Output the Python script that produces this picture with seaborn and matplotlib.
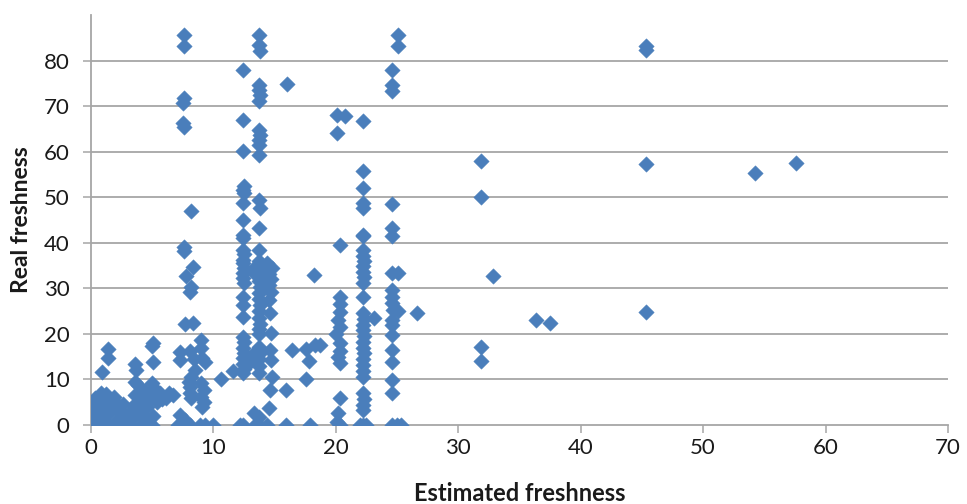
import numpy as np
import pandas as pd
import matplotlib
matplotlib.use("Agg")
import matplotlib.pyplot as plt
import seaborn as sns

# Estimated vs. real freshness, one pair per item
estimated = [
    # low cluster
    0.0, 0.2, 0.4, 0.1, 0.5, 0.3, 0.8, 1.0, 1.1, 0.9, 1.3, 1.5, 1.7, 1.9, 2.1, 2.3, 2.0, 0.6, 1.0, 2.4,
    2.7, 3.0, 3.2, 3.3, 3.5, 3.6, 3.8, 3.4, 4.0, 4.1, 4.2, 4.4, 4.6, 4.8, 5.0, 5.0, 5.2, 5.4, 5.6, 5.8,
    6.1, 6.4, 6.7, 5.0, 4.5, 2.6, 0.7, 1.2, 3.9, 5.1,
    0.9, 1.4, 1.4, 3.6, 3.7, 3.6, 5.1, 5.0, 5.1,
    # around 8
    7.6, 7.6, 7.6, 7.5, 7.5, 7.6, 8.2, 7.6, 7.6, 8.3, 7.8, 8.2, 8.1, 7.7, 8.3, 7.3, 7.3, 8.1, 8.4, 8.2,
    8.1, 8.1, 8.2, 7.3, 7.1, 8.1, 7.7, 8.5, 8.0,
    9.0, 9.0, 9.1, 9.3, 9.0, 9.0, 9.2, 9.3, 8.9, 9.2, 9.1,
    10.0, 10.6, 11.6,
    # around 12.4
    12.4, 12.4, 12.4, 12.5, 12.4, 12.5, 12.4, 12.4, 12.4, 12.4, 12.4, 12.5, 12.4, 12.4, 12.5, 12.4,
    12.4, 12.5, 12.4, 12.4, 12.4, 12.4, 12.5, 12.4, 12.5, 12.4, 12.4, 12.5, 12.4, 12.4, 12.2,
    # around 13.75
    13.75, 13.75, 13.8, 13.75, 13.75, 13.8, 13.75, 13.75, 13.8, 13.75, 13.75, 13.75, 13.75, 13.8,
    13.75, 13.75, 13.75, 13.8, 13.75, 13.7, 13.75, 13.8, 13.75, 13.75, 13.8, 13.75, 13.75, 13.8,
    13.75, 13.75, 13.75, 13.8, 13.75, 13.75, 13.75, 13.75, 13.75, 13.3, 13.4,
    13.3, 13.2, 13.4, 13.2, 13.0,
    # around 14.5
    14.4, 14.8, 14.5, 14.7, 14.5, 14.7, 14.5, 14.6, 14.7, 14.6, 14.7, 14.8, 14.6, 14.5, 14.4, 14.2, 14.1,
    15.9, 15.9, 16.4, 16.0,
    18.2, 17.6, 18.3, 17.8, 17.6, 17.9, 18.7,
    # around 20.3
    20.07, 20.07, 20.75, 20.34, 20.3, 20.3, 20.3, 20.2, 20.3, 20.3, 20.3, 20.2, 20.3, 20.3, 20.2,
    20.3, 20.1, 20.0,
    # around 22.2
    22.25, 22.25, 22.25, 22.2, 22.2, 22.2, 22.25, 22.2, 22.2, 22.3, 22.2, 22.2, 22.3, 22.2, 22.2,
    22.2, 22.3, 22.2, 22.2, 22.3, 22.2, 22.2, 22.3, 22.2, 22.2, 22.2, 22.2, 22.2, 22.3, 22.2, 22.2,
    22.2, 22.5, 23.1, 22.0,
    # around 24.6
    25.1, 25.1, 24.56, 24.56, 24.56, 24.56, 24.6, 24.6, 24.6, 25.1, 24.6, 24.6, 24.6, 24.7, 25.1,
    24.6, 24.6, 24.6, 24.6, 24.6, 24.6, 24.6, 24.6, 25.0, 25.3,
    26.66,
    # sparse high estimates
    31.85, 31.85, 32.86, 31.85, 31.85, 36.35, 37.5, 45.3, 45.3, 45.3, 45.3, 54.2, 57.55,
]

real = [
    # low cluster
    0.0, 0.8, 2.0, 3.5, 4.8, 6.0, 7.0, 5.5, 3.8, 1.5, 0.3, 2.6, 4.5, 6.2, 1.0, 3.2, 5.0, 0.0, 0.0, 0.0,
    2.0, 0.5, 0.0, 3.0, 4.5, 6.6, 8.8, 1.5, 2.5, 0.0, 5.5, 7.5, 4.0, 0.0, 9.2, 6.2, 8.0, 5.0, 7.0, 5.8,
    6.0, 7.0, 6.6, 0.0, 1.5, 4.6, 3.0, 6.8, 3.8, 2.0,
    11.7, 14.7, 16.6, 13.4, 12.0, 9.5, 18.0, 17.3, 13.8,
    # around 8
    85.7, 83.1, 71.8, 70.7, 66.3, 65.4, 46.9, 39.0, 38.1, 34.6, 32.6, 30.4, 29.3, 22.2, 22.3, 16.1,
    14.3, 16.3, 14.5, 10.6, 8.4, 7.0, 5.9, 2.2, 0.0, 0.0, 1.0, 12.0, 9.5,
    18.7, 16.8, 14.6, 13.9, 9.2, 6.2, 5.0, 0.0, 0.0, 7.7, 4.0,
    0.0, 10.0, 11.8,
    # around 12.4
    78.0, 67.0, 60.1, 52.4, 51.6, 51.0, 48.7, 45.0, 41.8, 41.0, 38.5, 37.5, 36.3, 35.6, 34.5, 33.3,
    32.2, 31.2, 28.2, 26.4, 23.8, 19.4, 18.2, 17.0, 15.8, 14.6, 13.4, 12.2, 11.4, 0.0, 0.0,
    # around 13.75
    85.7, 83.5, 82.0, 74.7, 73.6, 72.5, 71.1, 64.8, 63.7, 62.6, 61.5, 59.3, 49.5, 47.7,
    43.3, 38.5, 36.0, 35.0, 34.0, 32.8, 31.6, 30.4, 29.0, 27.7, 26.3, 25.0, 23.5, 22.2,
    21.0, 20.0, 17.2, 15.8, 14.5, 13.0, 11.4, 1.8, 0.0, 2.6, 0.0,
    34.5, 33.5, 16.0, 15.0, 13.8,
    # around 14.5
    35.6, 34.5, 33.2, 32.0, 30.8, 29.3, 27.5, 24.6, 20.2, 16.5, 14.3, 10.6, 7.7, 3.7, 0.0, 32.5, 30.0,
    7.7, 0.0, 16.5, 74.9,
    33.0, 16.7, 17.5, 14.0, 10.0, 0.0, 17.6,
    # around 20.3
    68.1, 64.2, 67.8, 39.6, 28.2, 26.5, 24.9, 23.0, 21.6, 18.0, 16.3, 15.0, 13.6, 5.9, 2.6,
    0.0, 0.6, 20.0,
    # around 22.2
    66.7, 55.7, 52.0, 48.8, 47.7, 41.8, 41.4, 38.5, 37.2, 36.0, 34.8, 33.6, 32.4, 31.1, 28.2,
    24.6, 23.3, 22.0, 20.8, 19.5, 18.2, 17.0, 15.7, 14.4, 13.1, 11.8, 10.6, 7.0, 5.8, 4.5, 3.3,
    0.0, 0.0, 23.4, 0.0,
    # around 24.6
    85.7, 83.1, 78.0, 74.7, 73.3, 48.6, 43.3, 41.4, 33.3, 33.3, 29.7, 28.0, 26.8, 25.3, 25.1,
    23.0, 22.0, 19.8, 16.5, 13.9, 9.9, 7.0, 0.0, 0.0, 0.0,
    24.5,
    # sparse high estimates
    57.9, 50.0, 32.7, 17.2, 14.1, 23.1, 22.5, 83.1, 82.4, 57.3, 24.7, 55.3, 57.5,
]

x_ticks = [0, 10, 20, 30, 40, 50, 60, 70]
y_ticks = [0, 10, 20, 30, 40, 50, 60, 70, 80]

df = pd.DataFrame({"Estimated freshness": estimated, "Real freshness": real})

sns.set_theme(style="white")
plt.rcParams["font.family"] = ["Lato", "DejaVu Sans"]

grid_grey = "#a6a6a6"
point_blue = "#4a7ebb"

fig = plt.figure(figsize=(9.67, 5.04), dpi=100)
ax = fig.add_axes([91 / 967, 79 / 504, 857 / 967, 410 / 504])

sns.scatterplot(
    data=df, x="Estimated freshness", y="Real freshness", ax=ax,
    marker="D", s=62, color=point_blue, edgecolor=point_blue, linewidth=0.3,
    zorder=3, legend=False,
)

ax.set_xlim(0, 70)
ax.set_ylim(0, 90)
ax.set_xticks(x_ticks)
ax.set_yticks(y_ticks)
ax.set_xticklabels([str(v) for v in x_ticks])
ax.set_yticklabels([str(v) for v in y_ticks])

for v in y_ticks[1:]:
    ax.axhline(v, color=grid_grey, linewidth=1.3, zorder=1)

for side in ("top", "right"):
    ax.spines[side].set_visible(False)
for side in ("left", "bottom"):
    ax.spines[side].set_color(grid_grey)
    ax.spines[side].set_linewidth(1.3)

ax.tick_params(axis="both", which="major", direction="out", length=5.5, width=1.1,
               color=grid_grey, labelsize=16, labelcolor="#1a1a1a", left=True, bottom=True)
ax.tick_params(axis="y", pad=10)
ax.tick_params(axis="x", pad=4)

ax.set_xlabel("Estimated freshness", fontsize=17, fontweight="bold", color="#1a1a1a")
ax.set_ylabel("Real freshness", fontsize=16.5, fontweight="bold", color="#1a1a1a")
ax.xaxis.set_label_coords(0.5, -0.138)
ax.yaxis.set_label_coords(-0.069, 0.5)

fig.savefig("out.png", dpi=100, facecolor="white")
